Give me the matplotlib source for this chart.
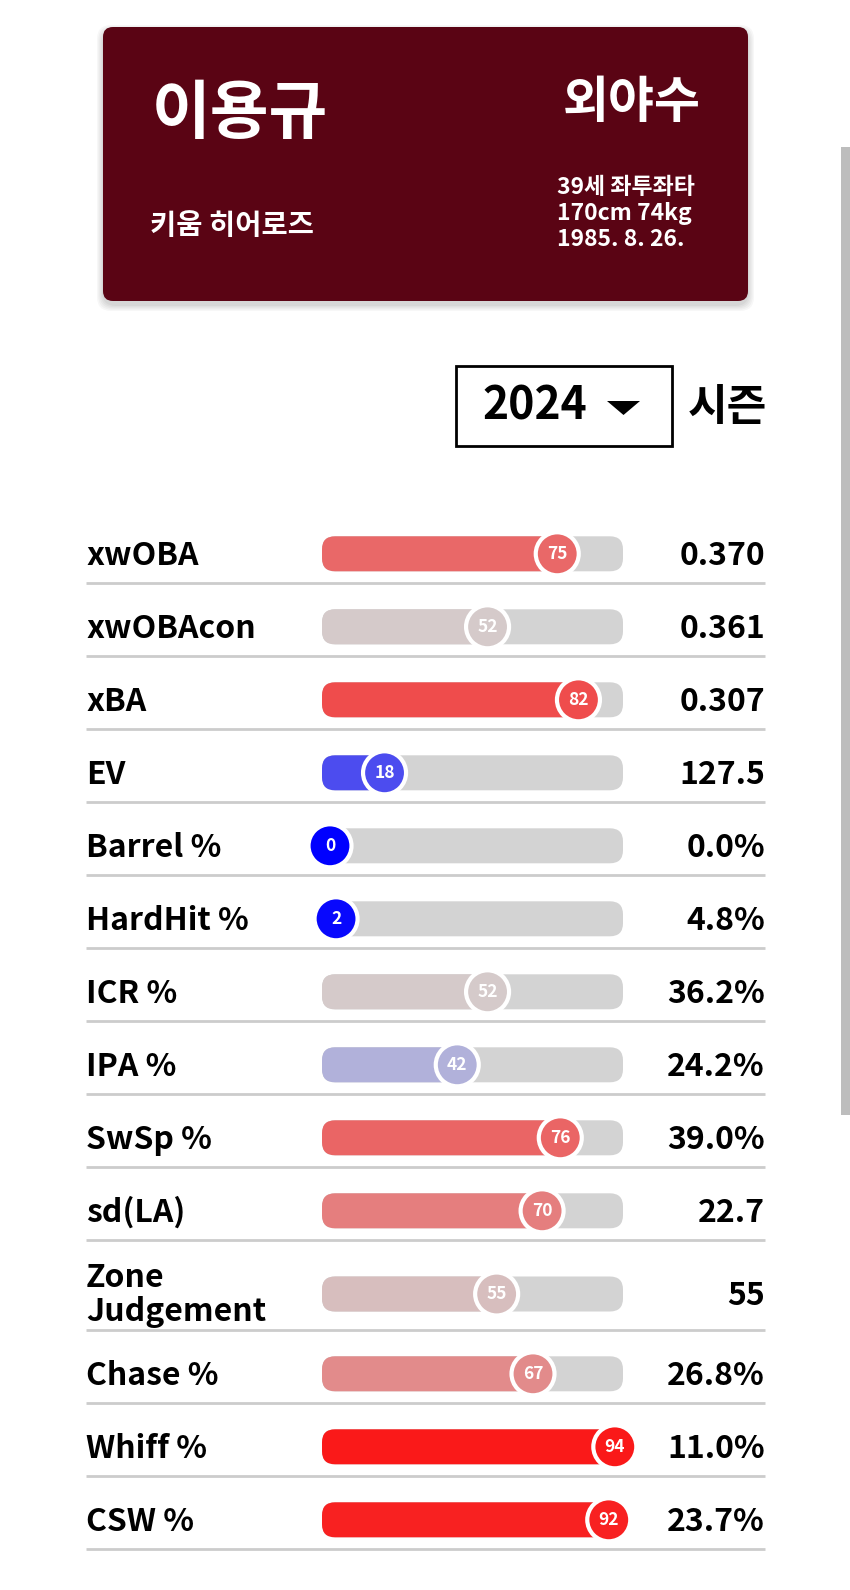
import matplotlib
matplotlib.use('Agg')
import matplotlib.pyplot as plt
from matplotlib.patches import FancyBboxPatch, Circle, Rectangle, Polygon
from matplotlib.colors import LinearSegmentedColormap

# player card
player_name = "이용규"
position = "외야수"
team = "키움 히어로즈"
bio_lines = ["39세 좌투좌타", "170cm 74kg", "1985. 8. 26."]
season = "2024"
season_label = "시즌"

# metrics
metrics = ["xwOBA", "xwOBAcon", "xBA", "EV", "Barrel %", "HardHit %", "ICR %",
           "IPA %", "SwSp %", "sd(LA)", "Zone\nJudgement", "Chase %", "Whiff %", "CSW %"]
percentiles = [75, 52, 82, 18, 0, 2, 52, 42, 76, 70, 55, 67, 94, 92]
raw_values = ["0.370", "0.361", "0.307", "127.5", "0.0%", "4.8%", "36.2%",
              "24.2%", "39.0%", "22.7", "55", "26.8%", "11.0%", "23.7%"]

KR = ['Noto Sans CJK KR', 'DejaVu Sans']
plt.rcParams['font.family'] = KR

W, H = 850, 1590
fig = plt.figure(figsize=(W / 100, H / 100), dpi=100)
ax = fig.add_axes([0, 0, 1, 1])
ax.set_xlim(0, W)
ax.set_ylim(H, 0)
ax.axis('off')

# scrollbar
ax.add_patch(Rectangle((841, 147), 9, 968, color='#bdbdbd', lw=0))

# card with soft shadow
cx0, cy0, cw, ch = 103, 27, 645, 274
for i, a in enumerate([0.03, 0.03, 0.03, 0.03, 0.04]):
    g = 12 - i * 2.5
    ax.add_patch(FancyBboxPatch((cx0 - g / 2, cy0 + 4 - g / 2), cw + g, ch + g,
                                boxstyle="round,pad=0,rounding_size=14",
                                color='#000000', alpha=a, lw=0))
ax.add_patch(FancyBboxPatch((cx0, cy0), cw, ch, boxstyle="round,pad=0,rounding_size=10",
                            color='#5a0414', lw=0))
ax.text(152, 114, player_name, fontsize=46, fontweight='bold', color='white', va='center', ha='left')
ax.text(701, 104, position, fontsize=36, fontweight='bold', color='white', va='center', ha='right')
ax.text(150, 226, team, fontsize=20.5, fontweight='bold', color='white', va='center', ha='left')
for i, line in enumerate(bio_lines):
    ax.text(557, 188 + i * 25.5, line, fontsize=16.5, fontweight='bold', color='white',
            va='center', ha='left')

# season selector
ax.add_patch(Rectangle((456, 366), 216, 80, fill=False, ec='black', lw=2))
ax.text(535, 407, season, fontsize=32, fontweight='bold', color='black', va='center', ha='center')
ax.add_patch(Polygon([[607, 401], [640, 401], [623.5, 415]], closed=True, color='black', lw=0))
ax.text(688, 407, season_label, fontsize=31, fontweight='bold', color='black', va='center', ha='left')

# percentile rows
cmap = LinearSegmentedColormap.from_list('pct', ['#0000ff', '#d3d3d3', '#ff0000'])
track_x0, track_x1 = 322, 623
bar_h = 35
px0, px_per = 330, 3.03
y = 510
for name, p, val in zip(metrics, percentiles, raw_values):
    h = 90 if '\n' in name else 73
    yc = y + 0.6 * h
    col = cmap(p / 100)
    ax.add_patch(FancyBboxPatch((track_x0, yc - bar_h / 2), track_x1 - track_x0, bar_h,
                                boxstyle="round,pad=0,rounding_size=13", color='#d3d3d3', lw=0))
    xm = px0 + p * px_per
    fw = xm - track_x0
    ax.add_patch(FancyBboxPatch((track_x0, yc - bar_h / 2), fw, bar_h,
                                boxstyle="round,pad=0,rounding_size=%f" % min(13, fw / 2),
                                color=col, lw=0))
    ax.add_patch(Circle((xm, yc), 21.5, fc=col, ec='white', lw=3, zorder=3))
    ax.text(xm, yc, str(p), fontsize=12.5, fontweight='bold', color='white',
            ha='center', va='center', zorder=4)
    ax.text(86, yc + 1 if '\n' in name else yc + 2, name, fontsize=23, fontweight='bold',
            color='black', ha='left', va='center', linespacing=1.1)
    ax.text(765, yc + 2, val, fontsize=23, fontweight='bold', color='black', ha='right', va='center')
    y += h
    ax.plot([86, 765], [y, y], color='#cccccc', lw=2, solid_capstyle='butt')

fig.savefig('out.png', dpi=100, facecolor='white')
